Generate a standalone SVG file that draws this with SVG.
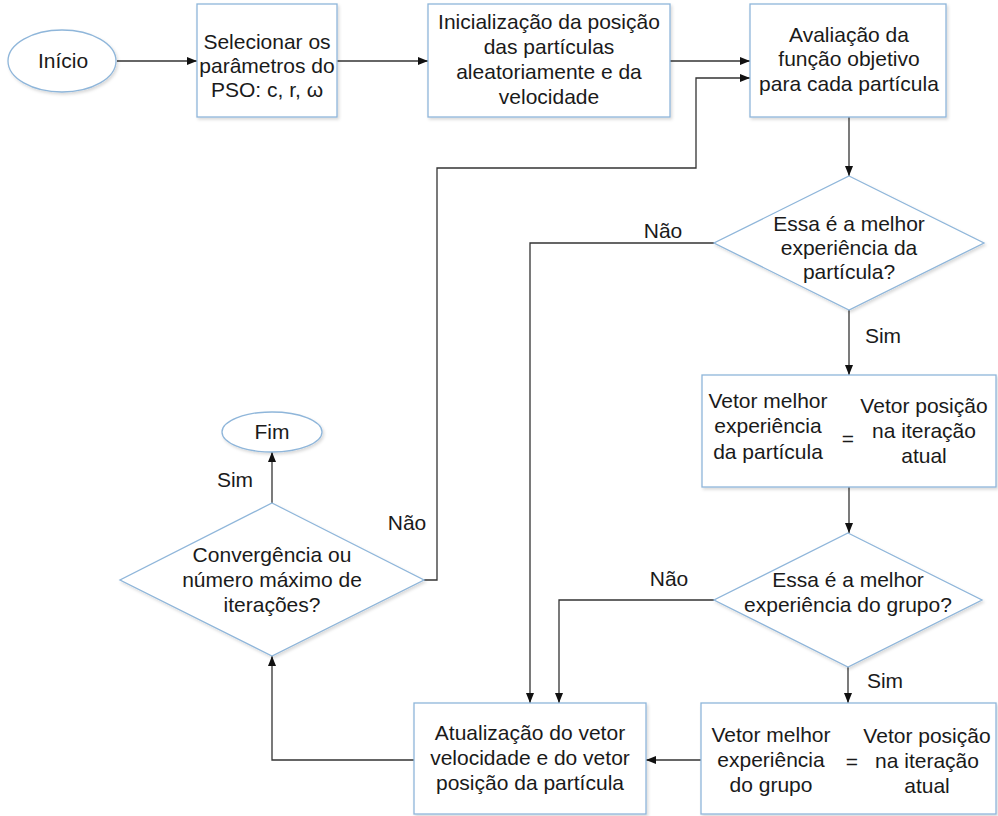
<svg xmlns="http://www.w3.org/2000/svg" width="998" height="816" viewBox="0 0 998 816">
<style>
.n{fill:#fff;stroke:#8fb6da;stroke-width:1.3;filter:url(#sh)}
.t{font-family:"Liberation Sans",Arial,sans-serif;font-size:21px;fill:#1a1a1a;text-anchor:middle}
.c{fill:none;stroke:#333;stroke-width:1.3;marker-end:url(#ar)}
</style>
<defs>
<filter id="sh" x="-10%" y="-10%" width="120%" height="130%">
<feDropShadow dx="1.5" dy="2" stdDeviation="1.5" flood-color="#000" flood-opacity="0.15"/>
</filter>
<marker id="ar" viewBox="0 0 10 10" refX="10" refY="5" markerWidth="10" markerHeight="10" markerUnits="userSpaceOnUse" orient="auto">
<path d="M0,1 L10,5 L0,9 Z" fill="#111"/>
</marker>
</defs>
<g id="connectors">
<path class="c" d="M117,61 H197"/>
<path class="c" d="M337,61 H428"/>
<path class="c" d="M670,61 H750"/>
<path class="c" d="M849,117 V176"/>
<path class="c" d="M849,310 V375"/>
<path class="c" d="M849,487 V533"/>
<path class="c" d="M848,667 V703"/>
<path class="c" d="M701,760 H646"/>
<path class="c" d="M714,600 H559 V703"/>
<path class="c" d="M714,243 H530 V703"/>
<path class="c" d="M414,760 H272 V656"/>
<path class="c" d="M272,503 V452"/>
<path class="c" d="M424,580 H437 V168 H696 V78 H750"/>
<text class="t" x="663" y="238">Não</text>
<text class="t" x="883" y="343">Sim</text>
<text class="t" x="669" y="586">Não</text>
<text class="t" x="885" y="688">Sim</text>
<text class="t" x="235" y="487">Sim</text>
<text class="t" x="407" y="530">Não</text>
</g>
<g id="inicio">
<ellipse class="n" cx="62" cy="61" rx="54" ry="31"/>
<text class="t" x="63" y="68">Início</text>
</g>
<g id="selecionar">
<rect class="n" x="197" y="4" width="140" height="113"/>
<text class="t" x="267" y="49">Selecionar os</text>
<text class="t" x="267" y="73">parâmetros do</text>
<text class="t" x="267" y="97">PSO: c, r, ω</text>
</g>
<g id="inicializacao">
<rect class="n" x="428" y="4" width="242" height="113"/>
<text class="t" x="549" y="29">Inicialização da posição</text>
<text class="t" x="549" y="54">das partículas</text>
<text class="t" x="549" y="79">aleatoriamente e da</text>
<text class="t" x="549" y="104">velocidade</text>
</g>
<g id="avaliacao">
<rect class="n" x="750" y="4" width="196" height="113"/>
<text class="t" x="849" y="42">Avaliação da</text>
<text class="t" x="849" y="66">função objetivo</text>
<text class="t" x="849" y="91">para cada partícula</text>
</g>
<g id="decisao-particula">
<polygon class="n" points="849,176 984,243 849,310 714,243"/>
<text class="t" x="849" y="231">Essa é a melhor</text>
<text class="t" x="849" y="255">experiência da</text>
<text class="t" x="849" y="279">partícula?</text>
</g>
<g id="vetor-particula">
<rect class="n" x="702" y="375" width="294" height="112"/>
<text class="t" x="768" y="408">Vetor melhor</text>
<text class="t" x="768" y="433">experiência</text>
<text class="t" x="768" y="459">da partícula</text>
<text class="t" x="848" y="446">=</text>
<text class="t" x="924" y="413">Vetor posição</text>
<text class="t" x="924" y="438">na iteração</text>
<text class="t" x="924" y="463">atual</text>
</g>
<g id="decisao-grupo">
<polygon class="n" points="848,533 982,600 848,667 714,600"/>
<text class="t" x="848" y="587">Essa é a melhor</text>
<text class="t" x="848" y="612">experiência do grupo?</text>
</g>
<g id="vetor-grupo">
<rect class="n" x="701" y="703" width="295" height="111"/>
<text class="t" x="771" y="742">Vetor melhor</text>
<text class="t" x="771" y="767">experiência</text>
<text class="t" x="771" y="792">do grupo</text>
<text class="t" x="852" y="769">=</text>
<text class="t" x="927" y="743">Vetor posição</text>
<text class="t" x="927" y="768">na iteração</text>
<text class="t" x="927" y="793">atual</text>
</g>
<g id="atualizacao">
<rect class="n" x="414" y="703" width="232" height="111"/>
<text class="t" x="530" y="740">Atualização do vetor</text>
<text class="t" x="530" y="765">velocidade e do vetor</text>
<text class="t" x="530" y="790">posição da partícula</text>
</g>
<g id="convergencia">
<polygon class="n" points="272,503 424,580 272,656 120,580"/>
<text class="t" x="272" y="562">Convergência ou</text>
<text class="t" x="272" y="587">número máximo de</text>
<text class="t" x="272" y="612">iterações?</text>
</g>
<g id="fim">
<ellipse class="n" cx="272" cy="432" rx="50" ry="20"/>
<text class="t" x="272" y="439">Fim</text>
</g>
</svg>
